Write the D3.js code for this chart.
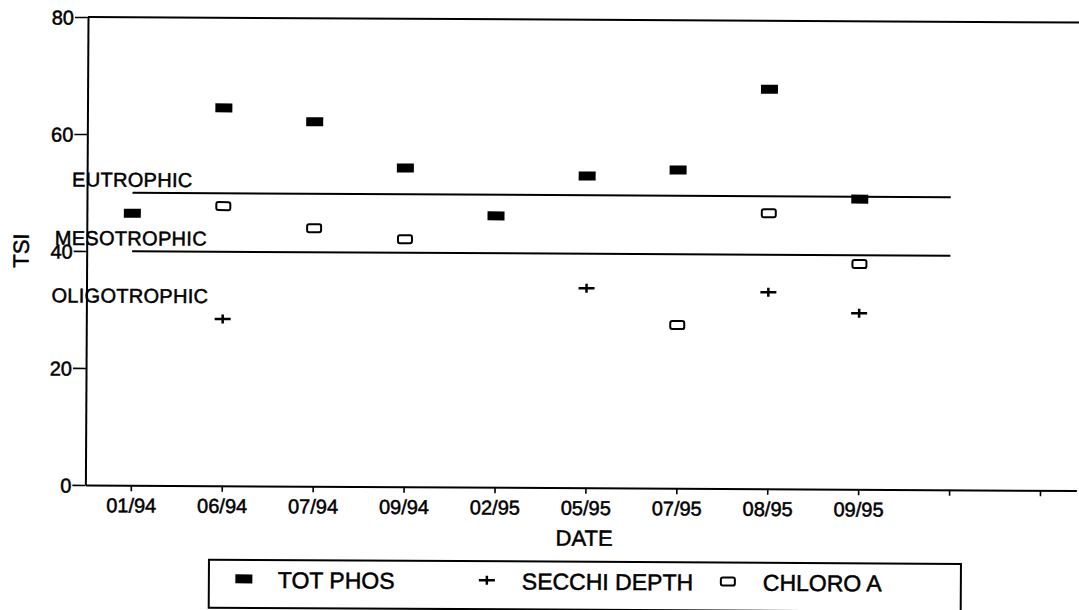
<!DOCTYPE html>
<html>
<head>
<meta charset="utf-8">
<script src="https://cdn.jsdelivr.net/npm/d3@7"></script>
<style>
  html, body { margin: 0; padding: 0; background: #fff; }
  svg { display: block; font-family: "Liberation Sans", Arial, sans-serif; }
  svg text { stroke: #000; stroke-width: 0.5px; fill: #000; }
</style>
</head>
<body>
<svg id="chart" width="1079" height="610"></svg>
<script>
// ---- data ----
const dates = ["01/94", "06/94", "07/94", "09/94", "02/95", "05/95", "07/95", "08/95", "09/95"];
const tickIndex = [0, 1, 2, 3, 4, 5, 6, 7, 8, 9, 10];
const yTicks = [0, 20, 40, 60, 80];
const totPhos = [46.5, 64.6, 62.3, 54.5, 46.4, 53.3, 54.4, 68.3, 49.6];
const secchiDepth = [null, 28.5, null, null, null, 34.1, null, 33.6, 30.1];
const chloroA = [null, 47.8, 44.1, 42.3, null, null, 27.9, 47.1, 38.5];
const trophicLevels = [50, 40];
const trophicLabels = ["EUTROPHIC", "MESOTROPHIC", "OLIGOTROPHIC"];
const legendLabels = ["TOT PHOS", "SECCHI DEPTH", "CHLORO A"];

// ---- layout ----
const svg = d3.select("#chart");
const mLeft = 88, mRight = 1079, mTop = 17, mBottom = 485;
const x = d3.scaleLinear().domain([-0.5, 10.4]).range([mLeft, mRight]);
const y = d3.scaleLinear().domain([0, 80]).range([mBottom, mTop]);

const g = svg.append("g").attr("transform", `rotate(0.32, ${mLeft}, ${mTop})`);

// top border
g.append("line").attr("x1", mLeft).attr("x2", mRight).attr("y1", mTop).attr("y2", mTop)
  .attr("stroke", "#000").attr("stroke-width", 2);

// y axis
const yAxis = g.append("g").attr("transform", `translate(${mLeft},0)`)
  .call(d3.axisLeft(y).tickValues(yTicks).tickSize(13).tickSizeOuter(0).tickPadding(1));
yAxis.select(".domain").attr("stroke-width", 2);
yAxis.selectAll(".tick line").attr("stroke-width", 1.6);
yAxis.selectAll("text").attr("font-size", 20)
  .attr("font-family", "Liberation Sans, Arial, sans-serif").attr("dy", "0.36em");

// x axis
const xAxis = g.append("g").attr("transform", `translate(0,${mBottom})`)
  .call(d3.axisBottom(x).tickValues(tickIndex).tickFormat(i => dates[i] || "")
    .tickSize(6).tickSizeOuter(0).tickPadding(7));
xAxis.select(".domain").attr("stroke-width", 2);
xAxis.selectAll(".tick line").attr("stroke-width", 1.6);
xAxis.selectAll("text").attr("font-size", 20)
  .attr("font-family", "Liberation Sans, Arial, sans-serif");

// axis titles
g.append("text").attr("x", 587).attr("y", 543).attr("text-anchor", "middle")
  .attr("font-size", 22).text("DATE");
g.append("text").attr("transform", `translate(30,251) rotate(-90)`)
  .attr("text-anchor", "middle").attr("font-size", 22).text("TSI");

// trophic lines
g.selectAll(".trophic").data(trophicLevels).enter().append("line")
  .attr("x1", x(0)).attr("x2", x(9))
  .attr("y1", d => y(d)).attr("y2", d => y(d))
  .attr("stroke", "#000").attr("stroke-width", 2);

// trophic labels
const labelX = [73, 56, 53];
const labelY = [y(50) - 6, y(40) - 6, y(30) - 7];
g.selectAll(".tlabel").data(trophicLabels).enter().append("text")
  .attr("x", (d, i) => labelX[i]).attr("y", (d, i) => labelY[i])
  .attr("font-size", 20).attr("letter-spacing", 0.3).text(d => d);

// markers
function drawPhos(sel) {
  sel.append("rect").attr("x", -8.5).attr("y", -4.5).attr("width", 17).attr("height", 9).attr("fill", "#000");
}
function drawSecchi(sel) {
  sel.append("line").attr("x1", -8).attr("x2", 8).attr("y1", 0).attr("y2", 0).attr("stroke", "#000").attr("stroke-width", 2.5);
  sel.append("line").attr("x1", 0).attr("x2", 0).attr("y1", -4.5).attr("y2", 4.5).attr("stroke", "#000").attr("stroke-width", 2.5);
}
function drawChloro(sel) {
  sel.append("rect").attr("x", -7).attr("y", -4).attr("width", 14).attr("height", 8).attr("rx", 2)
    .attr("fill", "#fff").attr("stroke", "#000").attr("stroke-width", 2);
}

function plot(values, drawer) {
  const pts = values.map((v, i) => ({ i, v })).filter(d => d.v != null);
  g.selectAll(null).data(pts).enter().append("g")
    .attr("transform", d => `translate(${x(d.i)},${y(d.v)})`)
    .each(function () { drawer(d3.select(this)); });
}
plot(totPhos, drawPhos);
plot(secchiDepth, drawSecchi);
plot(chloroA, drawChloro);

// legend
const lg = g.append("g");
lg.append("rect").attr("x", 212).attr("y", 559).attr("width", 752).attr("height", 48)
  .attr("fill", "none").attr("stroke", "#000").attr("stroke-width", 2);
const legendMarkX = [247, 490, 731];
const legendTextX = [281, 525, 766];
const drawers = [drawPhos, drawSecchi, drawChloro];
legendLabels.forEach((lab, i) => {
  const m = lg.append("g").attr("transform", `translate(${legendMarkX[i]},${578})`);
  drawers[i](m);
  lg.append("text").attr("x", legendTextX[i]).attr("y", 587).attr("font-size", 23).text(lab);
});
</script>
</body>
</html>
